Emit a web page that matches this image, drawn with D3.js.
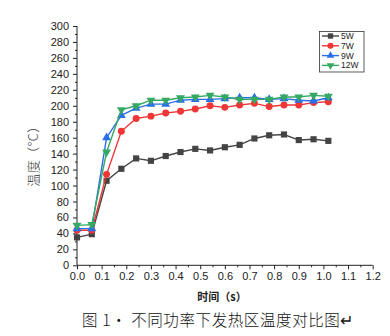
<!DOCTYPE html>
<html><head><meta charset="utf-8">
<script src="https://cdn.jsdelivr.net/npm/d3@7"></script>
<style>html,body{margin:0;padding:0;background:#fff;}svg{display:block;}</style>
</head><body>
<script>
const times = [0,0.06,0.12,0.18,0.24,0.30,0.36,0.42,0.48,0.54,0.60,0.66,0.72,0.78,0.84,0.90,0.96,1.02];
const w5  = [35,39,106,121,134,131,137,142,146,144,148,151,159,163,164,157,158,156];
const w7  = [44,44,114,168,184,187,191,193,196,200,198,201,203,199,201,201,204,205];
const w9  = [46,46,160,188,197,202,202,207,208,208,209,210,210,208,209,207,206,210];
const w12 = [50,51,142,195,200,207,207,210,211,213,211,208,208,208,211,211,213,212];
const seriesNames = ["5W","7W","9W","12W"];
const xTicks = [0,0.1,0.2,0.3,0.4,0.5,0.6,0.7,0.8,0.9,1.0,1.1,1.2];
const yTicks = [0,20,40,60,80,100,120,140,160,180,200,220,240,260,280,300];

const W=390,H=336;
const svg=d3.select("body").append("svg").attr("width",W).attr("height",H);
const x=d3.scaleLinear().domain([0,1.2]).range([77,372.7]);
const y=d3.scaleLinear().domain([0,300]).range([265.3,26]);
const font="'Liberation Sans', Arial, sans-serif";

// axes
const xAx=svg.append("g").attr("transform",`translate(0,${y(0)})`)
  .call(d3.axisBottom(x).tickValues(xTicks).tickFormat(d3.format(".1f")).tickSize(4).tickPadding(3));
svg.append("g").attr("transform",`translate(0,${y(0)})`)
  .call(d3.axisBottom(x).tickValues(d3.range(0.05,1.2,0.1)).tickFormat("").tickSize(2))
  .select(".domain").remove();
const yAx=svg.append("g").attr("transform",`translate(${x(0)},0)`)
  .call(d3.axisLeft(y).tickValues(yTicks).tickSize(4).tickPadding(4));
svg.append("g").attr("transform",`translate(${x(0)},0)`)
  .call(d3.axisLeft(y).tickValues(d3.range(10,300,20)).tickFormat("").tickSize(2))
  .select(".domain").remove();
svg.selectAll(".domain").attr("stroke","#222").attr("stroke-width",1);
svg.selectAll(".tick line").attr("stroke","#222");
svg.selectAll(".tick text").attr("font-family",font).attr("font-size",11).attr("fill","#222");
xAx.selectAll(".domain").attr("d",`M${x(0)},0H${x(1.2)}`);
yAx.selectAll(".domain").attr("d",`M0,${y(0)}V${y(300)}`);

// titles
svg.append("text").attr("x",222).attr("y",301).attr("text-anchor","middle")
  .attr("font-family","'Noto Sans CJK SC', sans-serif").attr("font-size",11).attr("font-weight","bold").attr("fill","#222")
  .text("时间（s）");
svg.append("text").attr("transform","translate(38,153) rotate(-90)").attr("text-anchor","middle")
  .attr("font-family","'Noto Sans CJK SC', sans-serif").attr("font-size",13).attr("font-weight",300).attr("fill","#333")
  .attr("letter-spacing",0.5)
  .text("温度（°C）");
svg.append("text").attr("x",82).attr("y",326)
  .attr("font-family","'Noto Sans CJK SC', sans-serif").attr("font-size",15.5).attr("font-weight",300).attr("fill","#111")
  .attr("letter-spacing",0.6)
  .text("图 1· 不同功率下发热区温度对比图↵");

// series
const colors=["#444444","#ef3535","#2a6fe5","#35a862"];
const data=[w5,w7,w9,w12];
const shapes=[d3.symbolSquare,d3.symbolCircle,d3.symbolTriangle,d3.symbolTriangle];
const sizes=[38,38,34,34];
const line=d3.line().x((d,i)=>x(times[i])).y(d=>y(d));
data.forEach((vals,k)=>{
  const g=svg.append("g");
  g.append("path").attr("d",line(vals)).attr("fill","none").attr("stroke",colors[k]).attr("stroke-width",1.4);
  g.selectAll("path.m").data(vals).enter().append("path").attr("class","m")
    .attr("d",d3.symbol().type(shapes[k]).size(sizes[k]))
    .attr("transform",(d,i)=>`translate(${x(times[i])},${y(d)})${k===3?" rotate(180)":""}`)
    .attr("fill",colors[k]);
});

// legend
const lg=svg.append("g");
lg.append("rect").attr("x",319.5).attr("y",31.5).attr("width",44.5).attr("height",40.5)
  .attr("fill","#fff").attr("stroke","#333").attr("stroke-width",0.8);
seriesNames.forEach((n,k)=>{
  const yy=36+k*9.8;
  lg.append("line").attr("x1",322).attr("x2",339).attr("y1",yy).attr("y2",yy).attr("stroke",colors[k]).attr("stroke-width",1.4);
  lg.append("path").attr("d",d3.symbol().type(shapes[k]).size(sizes[k]*0.75)())
    .attr("transform",`translate(330.5,${yy})${k===3?" rotate(180)":""}`).attr("fill",colors[k]);
  lg.append("text").attr("x",341).attr("y",yy+3).attr("font-family",font).attr("font-size",8.5).attr("fill","#222").text(n);
});
</script>
</body></html>
